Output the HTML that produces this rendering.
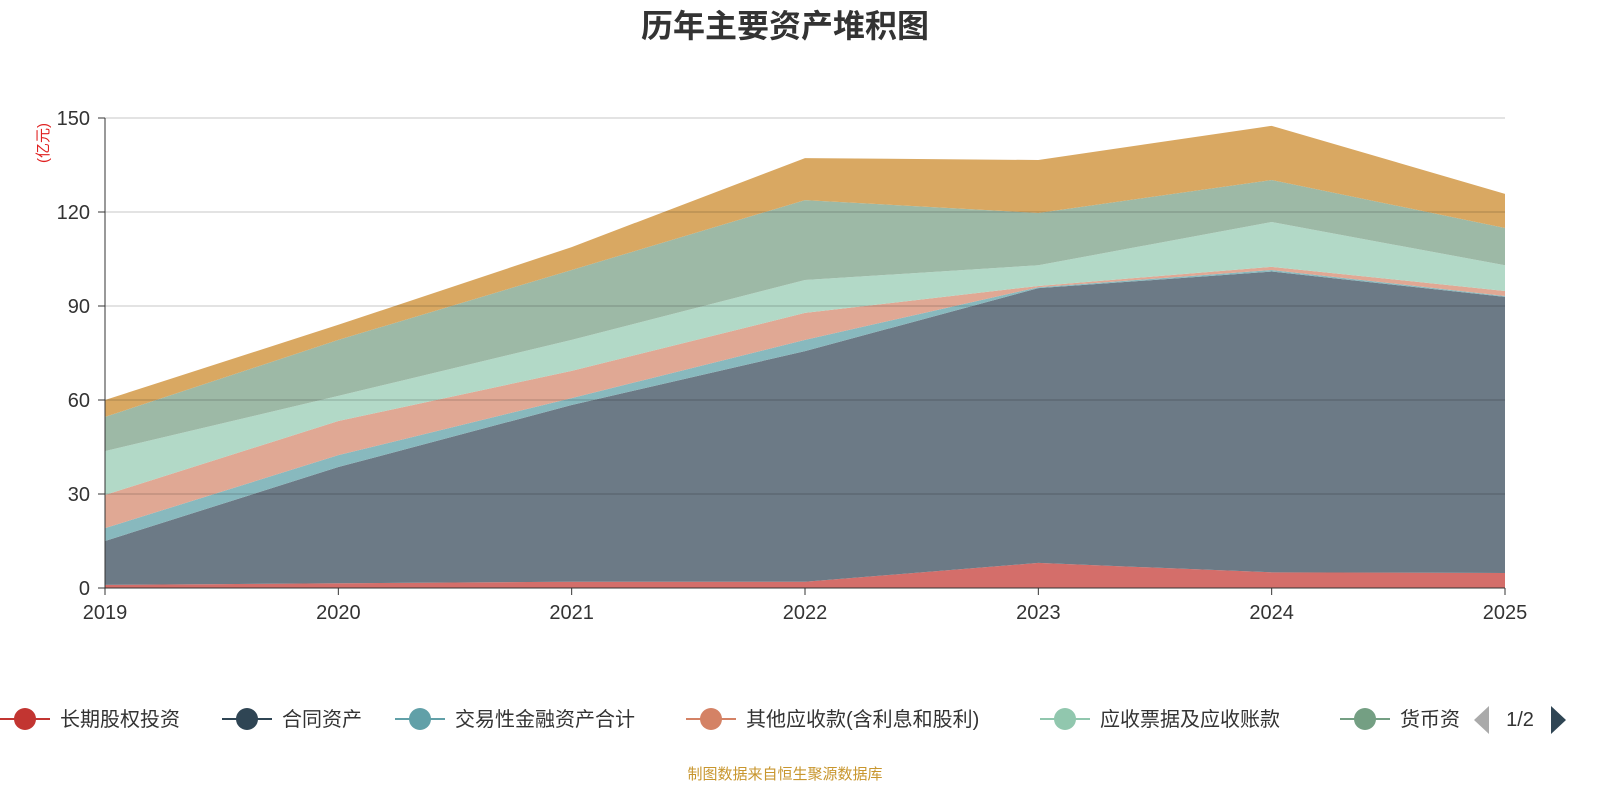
<!DOCTYPE html>
<html><head><meta charset="utf-8"><style>
html,body{margin:0;padding:0;background:#fff;overflow:hidden;width:1600px;height:800px;font-family:"Liberation Sans","Noto Sans CJK SC",sans-serif;}
svg{display:block;}
svg text{font-family:"Liberation Sans","Noto Sans CJK SC",sans-serif;}
</style></head><body>
<svg id="chart" width="1600" height="800" xmlns="http://www.w3.org/2000/svg">
<text x="785" y="37" text-anchor="middle" font-size="32" font-weight="bold" fill="#333">历年主要资产堆积图</text>
<text transform="translate(48,143) rotate(-90)" text-anchor="middle" font-size="15" fill="#e02020">(亿元)</text>
<g id="areas"></g><g id="grid"></g><g id="axes"></g>
<g id="legend" font-size="20" fill="#333"></g>
<text x="1520" y="726" text-anchor="middle" font-size="20" fill="#333">1/2</text>
<path d="M1489,706 L1474,720 L1489,734 Z" fill="#aaa"/>
<path d="M1551,706 L1566,720 L1551,734 Z" fill="#2f4554"/>
<text x="785" y="779" text-anchor="middle" font-size="15" fill="#c8962e">制图数据来自恒生聚源数据库</text>
</svg>
<script>
const years=["2019","2020","2021","2022","2023","2024","2025"];
const seriesNames=["长期股权投资","合同资产","交易性金融资产合计","其他应收款(含利息和股利)","应收票据及应收账款","货币资金","存货"];
const s1=[1,1.5,2,2,8,5,4.8];
const s2=[14,37.1,56.4,73.6,87.7,96,88.1];
const s3=[4.1,3.8,2.2,3.6,0.3,0.5,0.3];
const s4=[10.6,10.9,8.7,8.6,0.4,1,1.6];
const s5=[14,8,9.9,10.5,6.6,14.3,8.2];
const s6=[10.9,17.9,22.3,25.5,16.7,13.4,11.9];
const s7=[5.4,4.8,7.3,13.4,16.9,17.3,10.9];
const yTicks=[0,30,60,90,120,150];
const series=[s1,s2,s3,s4,s5,s6,s7];
const fills=["#d46e6a","#6c7a86","#88b9be","#e0a894","#b2d9c7","#9db9a6","#d9a862"];
const lineCols=["#c23531","#2f4554","#61a0a8","#d48265","#91c7ae","#749f83","#ca8622"];
const NS="http://www.w3.org/2000/svg";
const X=i=>105+i*(1400/(years.length-1));
const Y=v=>588-v*(470/150);
function mk(t,a,p){const e=document.createElementNS(NS,t);for(const k in a)e.setAttribute(k,a[k]);p.appendChild(e);return e;}
const areas=document.getElementById('areas');
let base=years.map(()=>0);
series.forEach((s,k)=>{
  const top=base.map((b,i)=>b+s[i]);
  let d="M"+years.map((_,i)=>X(i)+","+Y(top[i])).join(" L");
  for(let i=years.length-1;i>=0;i--)d+=" L"+X(i)+","+Y(base[i]);
  const p=mk('path',{d:d+"Z",fill:fills[k]},areas);
  
  
  base=top;
});
const grid=document.getElementById('grid'),axes=document.getElementById('axes');
yTicks.forEach(t=>{
  if(t>0){const l=mk('line',{x1:105,x2:1505,y1:Y(t),y2:Y(t),stroke:"rgba(0,0,0,0.22)","stroke-width":1},grid);
  
  }
  const tx=mk('text',{x:90,y:Y(t)+7,"text-anchor":"end","font-size":20,fill:"#333"},axes);tx.textContent=t;
  
  
  mk('line',{x1:98,x2:105,y1:Y(t),y2:Y(t),stroke:"#333"},axes);
});
mk('line',{x1:105,x2:105,y1:118,y2:588,stroke:"#333"},axes);
mk('line',{x1:105,x2:1505,y1:588,y2:588,stroke:"#333"},axes);
years.forEach((y,i)=>{
  mk('line',{x1:X(i),x2:X(i),y1:588,y2:595,stroke:"#333"},axes);
  const tx=mk('text',{x:X(i),y:619,"text-anchor":"middle","font-size":20,fill:"#333"},axes);tx.textContent=y;
  
  
});
const lg=document.getElementById('legend');
const lx=[0,222,395,686,1040,1340];
const labels=["长期股权投资","合同资产","交易性金融资产合计","其他应收款(含利息和股利)","应收票据及应收账款","货币资"];
labels.forEach((n,k)=>{
  const g=mk('g',{},lg);
  
  
  mk('line',{x1:lx[k],x2:lx[k]+50,y1:719,y2:719,stroke:lineCols[k],"stroke-width":2},g);
  mk('circle',{cx:lx[k]+25,cy:719,r:11,fill:lineCols[k]},g);
  const t=mk('text',{x:lx[k]+60,y:726},g);t.textContent=n;
});
</script>
</body></html>
